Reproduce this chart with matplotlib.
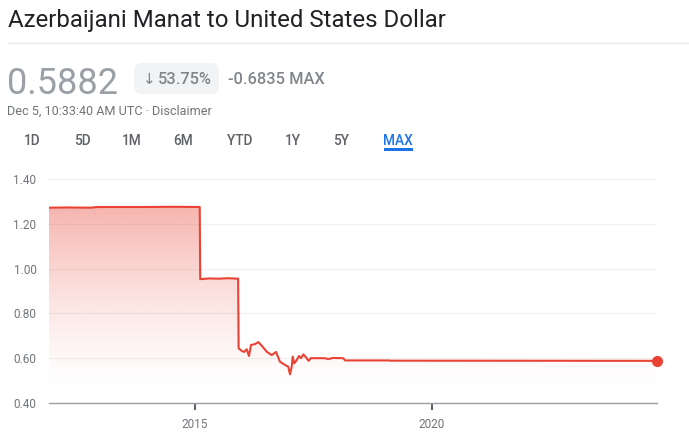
import matplotlib
matplotlib.use('Agg')
import matplotlib.pyplot as plt
import numpy as np
from matplotlib.patches import FancyBboxPatch, Rectangle
from matplotlib.transforms import IdentityTransform
from matplotlib.lines import Line2D

plt.rcParams['font.family'] = ['Roboto', 'DejaVu Sans']

# ---------------- data ----------------
title = "Azerbaijani Manat to United States Dollar"
price_text = "0.5882"
change_pct = "53.75%"
change_abs = "-0.6835 MAX"
timestamp = "Dec 5, 10:33:40 AM UTC · Disclaimer"
ranges = ["1D", "5D", "1M", "6M", "YTD", "1Y", "5Y", "MAX"]
active_range = "MAX"

years = [2011.92, 2012.30, 2012.80, 2012.95, 2013.50, 2014.00, 2014.50, 2015.10,
         2015.11, 2015.30, 2015.50, 2015.70, 2015.91,
         2015.92, 2015.985, 2016.034, 2016.091, 2016.139, 2016.181, 2016.266,
         2016.335, 2016.407, 2016.513, 2016.618, 2016.709, 2016.793, 2016.899,
         2016.968, 2017.004, 2017.040, 2017.061, 2017.095, 2017.146, 2017.194,
         2017.236, 2017.285, 2017.342, 2017.399, 2017.441, 2017.743, 2017.785,
         2017.848, 2017.890, 2018.129, 2018.165, 2019.10, 2019.12, 2024.74]
rates = [1.272, 1.273, 1.272, 1.275, 1.275, 1.275, 1.276, 1.275,
         0.953, 0.956, 0.955, 0.957, 0.955,
         0.644, 0.633, 0.628, 0.640, 0.610, 0.659, 0.663,
         0.672, 0.656, 0.629, 0.614, 0.628, 0.584, 0.570,
         0.562, 0.528, 0.562, 0.607, 0.577, 0.592, 0.610,
         0.600, 0.617, 0.604, 0.588, 0.600, 0.600, 0.597,
         0.597, 0.601, 0.600, 0.590, 0.590, 0.589, 0.5882]

ytick_values = [0.40, 0.60, 0.80, 1.00, 1.20, 1.40]
xtick_years = [2015, 2020]

# ---------------- figure ----------------
W, H = 689, 443
fig = plt.figure(figsize=(W / 100, H / 100), dpi=100)
fig.patch.set_facecolor('white')

def fx(x):
    return x / W

def fy(y):
    return 1 - y / H

RED = '#ea4335'

# header
fig.text(fx(8), fy(27), title, fontsize=17.3, color='#202124', va='baseline', ha='left')
fig.add_artist(Line2D([fx(8), 1.0], [fy(42.5), fy(42.5)], color='#e8eaed', lw=1))

fig.text(fx(7), fy(94), price_text, fontsize=26, color='#9aa0a6', va='baseline', ha='left')
badge = FancyBboxPatch((134, H - 94), 85, 31, boxstyle="round,pad=0,rounding_size=8",
                       transform=IdentityTransform(), facecolor='#f1f3f4', edgecolor='none')
fig.add_artist(badge)
fig.text(fx(149), fy(83.5), "\u2193", fontsize=11, color='#80868b', va='baseline', ha='center',
         family=['DejaVu Sans'])
fig.text(fx(157.5), fy(83.5), change_pct, fontsize=11.8, color='#80868b', va='baseline', ha='left',
         fontweight='medium')
fig.text(fx(228), fy(83.5), change_abs, fontsize=11.8, color='#80868b', va='baseline', ha='left',
         fontweight='medium')
fig.text(fx(7), fy(114.3), timestamp, fontsize=9.1, color='#70757a', va='baseline', ha='left')

tab_x = [32, 82, 132, 183, 240, 293, 341, 398]
for lbl, x in zip(ranges, tab_x):
    active = lbl == active_range
    fig.text(fx(x), fy(145), lbl, fontsize=9.8, va='baseline', ha='center',
             color='#1a73e8' if active else '#5f6368', fontweight='medium')
    if active:
        fig.add_artist(Rectangle((x - 14.5, H - 151), 29, 3, transform=IdentityTransform(),
                                 facecolor='#1a73e8', edgecolor='none'))

# chart
ax = fig.add_axes([fx(49), fy(403), (656.7 - 49) / W, (403 - 179) / H])
ax.set_facecolor('none')

x0, x1 = years[0], years[-1]
poly = ax.fill_between(years, rates, 0.40, color='none', lw=0)
ytop = max(rates)
yy = np.linspace(0.40, ytop, 300)
t = np.clip((yy - 0.45) / (ytop - 0.45), 0, 1)
grad = np.zeros((300, 1, 4))
grad[..., 0] = 234 / 255
grad[..., 1] = 67 / 255
grad[..., 2] = 53 / 255
grad[:, 0, 3] = 0.40 * t ** 1.4
im = ax.imshow(grad, extent=[x0, x1, 0.40, ytop], origin='lower', aspect='auto',
               zorder=1, interpolation='bilinear')
im.set_clip_path(poly.get_paths()[0], transform=ax.transData)

ax.plot(years, rates, color=RED, lw=1.5, solid_joinstyle='round', zorder=3)
ax.plot([years[-1]], [rates[-1]], 'o', ms=7, color=RED, clip_on=False, zorder=4)

ax.set_xlim(x0, x1)
ax.set_ylim(0.40, 1.40)
ax.set_yticks(ytick_values)
ax.set_yticklabels([f"{v:.2f}" for v in ytick_values])
ax.yaxis.grid(True, color='#f1f1f1', lw=1)
ax.set_axisbelow(True)
ax.tick_params(axis='y', length=0, pad=9, labelcolor='#70757a', labelsize=8.5)
ax.set_xticks(xtick_years)
ax.set_xticklabels([str(y) for y in xtick_years])
ax.tick_params(axis='x', length=5, width=1.5, color='#5f6368', labelcolor='#70757a',
               labelsize=8.5, pad=6)
for s in ['top', 'left', 'right']:
    ax.spines[s].set_visible(False)
ax.spines['bottom'].set_color('#9aa0a6')
ax.spines['bottom'].set_linewidth(1)
ax.spines['bottom'].set_zorder(5)

fig.savefig('out.png', dpi=100)
